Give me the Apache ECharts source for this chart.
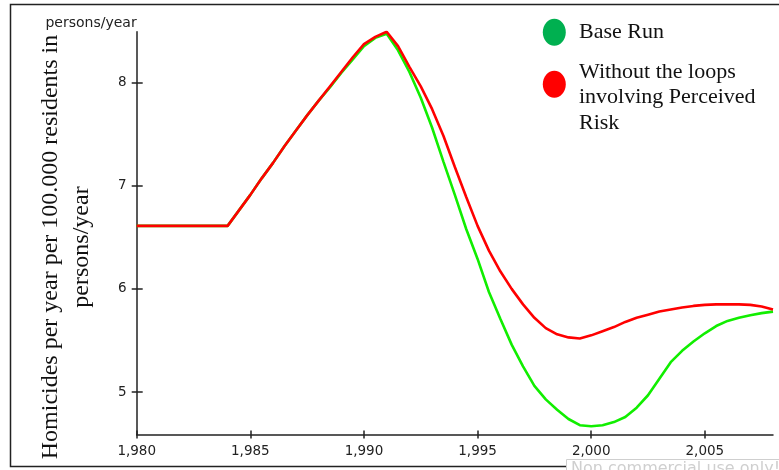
<!DOCTYPE html>
<html>
<head>
<meta charset="utf-8">
<script src="https://cdn.jsdelivr.net/npm/echarts@6/dist/echarts.min.js"></script>
<style>
  html, body { margin: 0; padding: 0; background: #fff; }
  #chart { width: 779px; height: 470px; }
</style>
</head>
<body>
<div id="chart"></div>
<script>
// Simulation time (years)
const years = [
  1980, 1981, 1982, 1983, 1984, 1984.5, 1985, 1985.5, 1986, 1986.5,
  1987, 1987.5, 1988, 1988.5, 1989, 1989.5, 1990, 1990.5, 1991, 1991.5,
  1992, 1992.5, 1993, 1993.5, 1994, 1994.5, 1995, 1995.5, 1996, 1996.5,
  1997, 1997.5, 1998, 1998.5, 1999, 1999.5, 2000, 2000.5, 2001, 2001.5,
  2002, 2002.5, 2003, 2003.5, 2004, 2004.5, 2005, 2005.5, 2006, 2006.5,
  2007, 2007.5, 2008
];

// Homicides per year per 100.000 residents
const baseRun = [
  6.61, 6.61, 6.61, 6.61, 6.61, 6.76, 6.91, 7.07, 7.22, 7.38,
  7.53, 7.68, 7.82, 7.95, 8.09, 8.22, 8.35, 8.43, 8.47, 8.31,
  8.10, 7.85, 7.56, 7.23, 6.91, 6.58, 6.29, 5.97, 5.71, 5.46,
  5.25, 5.06, 4.93, 4.83, 4.74, 4.68, 4.67, 4.68, 4.71, 4.76,
  4.85, 4.97, 5.13, 5.29, 5.40, 5.49, 5.57, 5.64, 5.69, 5.72,
  5.745, 5.765, 5.78
];

const withoutRiskLoops = [
  6.61, 6.61, 6.61, 6.61, 6.61, 6.76, 6.91, 7.07, 7.22, 7.38,
  7.53, 7.68, 7.82, 7.96, 8.10, 8.24, 8.37, 8.44, 8.49, 8.35,
  8.15, 7.96, 7.74, 7.48, 7.18, 6.89, 6.61, 6.37, 6.17, 6.00,
  5.85, 5.72, 5.62, 5.56, 5.53, 5.52, 5.55, 5.59, 5.63, 5.68,
  5.72, 5.75, 5.78, 5.80, 5.82, 5.835, 5.845, 5.85, 5.85, 5.85,
  5.845, 5.83, 5.80
];

const seriesNames = ['Base Run', 'Without the loops\ninvolving Perceived\nRisk'];

// Axis ticks
const xTicks = [1980, 1985, 1990, 1995, 2000, 2005];
const xTickLabels = ['1,980', '1,985', '1,990', '1,995', '2,000', '2,005'];
const yTicks = [5, 6, 7, 8];
const yTickLabels = ['5', '6', '7', '8'];

const X_MIN = 1980, X_MAX = 2008;
const Y_MIN = 4.59, Y_MAX = 8.49;

const GREEN_LINE = '#11ee00';
const RED_LINE = '#ff0000';
const AXIS = '#222';
const tickFont = { fontFamily: 'DejaVu Sans', fontSize: 13.5, color: '#222' };
const serif = 'Liberation Serif';

const W = 779, H = 470;
const GRID = { left: 136.7, right: 6, top: 31.7, bottom: 35.5 };
const plotW = W - GRID.left - GRID.right;
const plotH = H - GRID.top - GRID.bottom;

const pairs = vals => years.map((y, i) => [y, vals[i]]);

const xLabel = v => xTickLabels[xTicks.indexOf(v)] ?? '';
const yLabel = v => yTickLabels[yTicks.indexOf(v)] ?? '';

const axisLineStyle = { color: AXIS, width: 1.5 };

const chart = echarts.init(document.getElementById('chart'), null, { renderer: 'canvas' });

chart.setOption({
  animation: false,
  backgroundColor: '#fff',
  grid: { ...GRID, containLabel: false },
  xAxis: [
    {
      type: 'value', min: X_MIN, max: X_MAX, position: 'bottom',
      axisLine: { show: true, lineStyle: axisLineStyle },
      axisTick: { show: true, length: 4, customValues: xTicks, lineStyle: axisLineStyle },
      axisLabel: { show: true, margin: 10, customValues: xTicks, formatter: xLabel, ...tickFont },
      splitLine: { show: false }
    },
    {
      // top axis shifted onto the bottom one: draws the upper half of each tick
      type: 'value', min: X_MIN, max: X_MAX, position: 'top', offset: -plotH,
      axisLine: { show: false },
      axisTick: { show: true, length: 4, customValues: xTicks, lineStyle: axisLineStyle },
      axisLabel: { show: false },
      splitLine: { show: false }
    }
  ],
  yAxis: [
    {
      type: 'value', min: Y_MIN, max: Y_MAX, position: 'left',
      name: 'persons/year', nameLocation: 'end', nameGap: 1,
      nameTextStyle: { fontFamily: 'DejaVu Sans', fontSize: 14, color: '#222', align: 'right' },
      axisLine: { show: true, lineStyle: axisLineStyle },
      axisTick: { show: true, length: 5, customValues: yTicks, lineStyle: axisLineStyle },
      axisLabel: { show: true, margin: 10, customValues: yTicks, formatter: yLabel, ...tickFont },
      splitLine: { show: false }
    },
    {
      // right axis shifted onto the left one: draws the inner half of each tick
      type: 'value', min: Y_MIN, max: Y_MAX, position: 'right', offset: -plotW,
      axisLine: { show: false },
      axisTick: { show: true, length: 6, customValues: yTicks, lineStyle: axisLineStyle },
      axisLabel: { show: false },
      splitLine: { show: false }
    }
  ],
  series: [
    {
      name: seriesNames[0], type: 'line', data: pairs(baseRun),
      showSymbol: false, symbol: 'none',
      lineStyle: { color: GREEN_LINE, width: 2.6 }, itemStyle: { color: GREEN_LINE }, z: 2
    },
    {
      name: seriesNames[1], type: 'line', data: pairs(withoutRiskLoops),
      showSymbol: false, symbol: 'none',
      lineStyle: { color: RED_LINE, width: 2.6 }, itemStyle: { color: RED_LINE }, z: 3
    }
  ],
  graphic: [
    // outer frame
    {
      type: 'rect', silent: true, z: 0,
      shape: { x: 10.5, y: 4.5, width: 800, height: 462 },
      style: { fill: null, stroke: '#222', lineWidth: 1.5 }
    },
    // vertical axis title
    {
      type: 'text', x: 66, y: 247, rotation: Math.PI / 2,
      style: {
        text: 'Homicides per year per 100.000 residents in\npersons/year',
        fontFamily: serif, fontSize: 24, lineHeight: 31,
        fill: '#111', align: 'center', verticalAlign: 'middle'
      }
    },
    // legend
    {
      type: 'ellipse', shape: { cx: 554.3, cy: 32.3, rx: 11.5, ry: 13.5 },
      style: { fill: '#00b050' }
    },
    {
      type: 'text', x: 579, y: 32.5,
      style: { text: seriesNames[0], fontFamily: serif, fontSize: 22, fill: '#111', verticalAlign: 'middle' }
    },
    {
      type: 'ellipse', shape: { cx: 554.3, cy: 84.3, rx: 11.5, ry: 13.5 },
      style: { fill: '#ff0000' }
    },
    {
      type: 'text', x: 579, y: 59,
      style: { text: seriesNames[1], fontFamily: serif, fontSize: 22, lineHeight: 25.7, fill: '#111', verticalAlign: 'top' }
    },
    // usage notice box
    {
      type: 'rect', z: 10, shape: { x: 566.5, y: 459.5, width: 240, height: 22 },
      style: { fill: '#fff', stroke: '#cfcfcf', lineWidth: 1 }
    },
    {
      type: 'text', z: 11, x: 571, y: 461,
      style: { text: 'Non commercial use only!', fontFamily: 'DejaVu Sans', fontSize: 16, fill: '#cfcfcf', verticalAlign: 'top' }
    }
  ]
});
</script>
</body>
</html>
